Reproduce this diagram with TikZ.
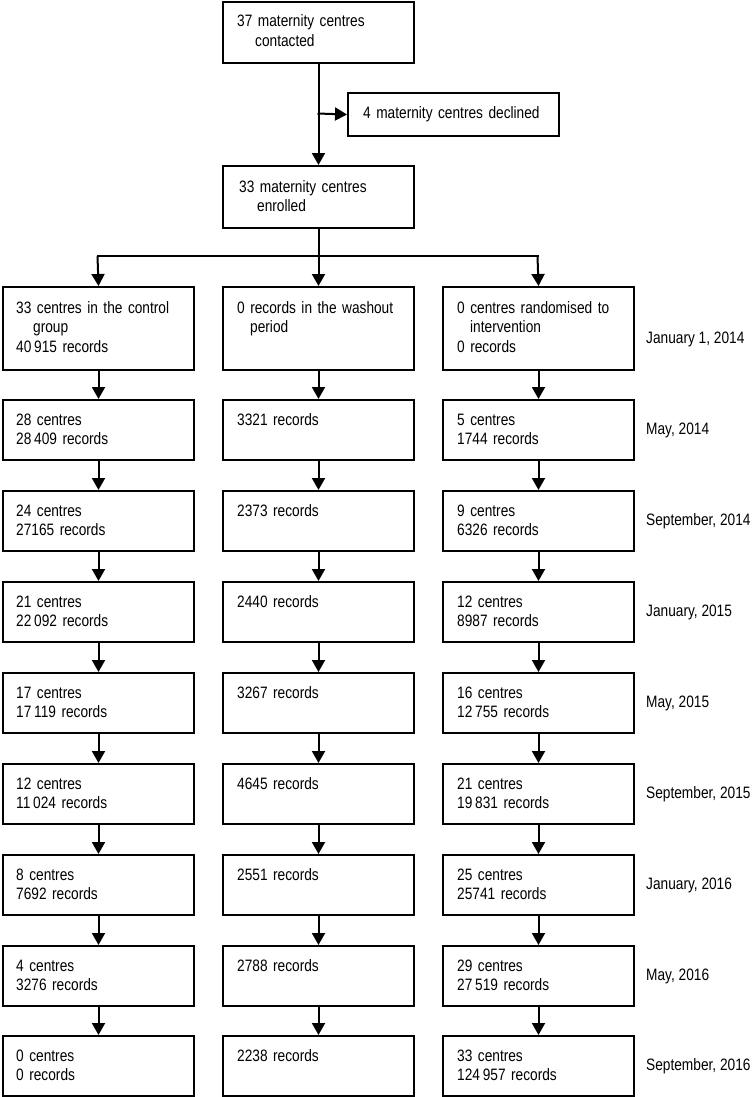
\documentclass[tikz,border=0pt]{standalone}
\usepackage{fontspec}
\setmainfont[FakeStretch=0.83]{Liberation Sans}
\usetikzlibrary{arrows.meta}
\begin{document}
\begin{tikzpicture}[x=1pt,y=-1pt,
  every node/.style={font=\fontsize{16.5}{19.5}\selectfont},
  box/.style={draw, line width=2pt, anchor=north west, inner sep=0pt,
    minimum width=191pt, minimum height=60pt},
  tx/.style={anchor=base west, inner sep=0pt, text width=175pt, align=left},
  dt/.style={anchor=base west, inner sep=0pt},
  arr/.style={line width=2pt, -{Triangle[width=13pt,length=12pt]}},
  ln/.style={line width=2pt}]
\useasboundingbox (0,0) rectangle (755,1097);
\fill[white] (0,0) rectangle (755,1097);

% top part
\node[box, minimum width=191pt, minimum height=61pt] (top) at (222,1) {};
\node[tx] (ttop) at (237,27) {37 maternity centres\\\hspace*{18pt}contacted};
\node[box, minimum width=211pt, minimum height=43pt] (dec) at (347,92) {};
\node[tx, text width=200pt] (tdec) at (363,118) {4 maternity centres declined};
\node[box, minimum width=191pt, minimum height=62pt] (enr) at (222,165) {};
\node[tx] (tenr) at (239,192) {33 maternity centres\\\hspace*{18pt}enrolled};

\coordinate (j) at (317.5,113.5);
\draw[arr] (top.south) -- (enr.north);
\draw[arr] (j) -- (dec.west);

% row 1
\node[box, minimum height=83pt] (L1) at (2,286) {};
\node[box, minimum height=83pt] (M1) at (222,286) {};
\node[box, minimum height=83pt] (R1) at (442,286) {};
\node[tx] (tL1) at (16,313) {33 centres in the control\\\hspace*{17pt}group\\40\,915 records};
\node[tx] (tM1) at (237,313) {0 records in the washout\\\hspace*{13pt}period};
\node[tx] (tR1) at (457,313) {0 centres randomised to\\\hspace*{13pt}intervention\\0 records};
\node[dt] (d1) at (646,343) {January 1, 2014};

\coordinate (bl) at (97.5,256);
\coordinate (brr) at (537.5,256);
\draw[ln] ([xshift=-1pt]bl) -- ([xshift=1pt]brr);
\draw[arr] (bl) -- (L1.north);
\draw[arr] (enr.south) -- (M1.north);
\draw[arr] (brr) -- (R1.north);

% rows 2-9
\foreach \i/\top/\la/\ma/\ra/\dd in {
  2/399/{28 centres\\28\,409 records}/{3321 records}/{5 centres\\1744 records}/{May, 2014},
  3/490/{24 centres\\27165 records}/{2373 records}/{9 centres\\6326 records}/{September, 2014},
  4/581/{21 centres\\22\,092 records}/{2440 records}/{12 centres\\8987 records}/{January, 2015},
  5/672/{17 centres\\17\,119 records}/{3267 records}/{16 centres\\12\,755 records}/{May, 2015},
  6/763/{12 centres\\11\,024 records}/{4645 records}/{21 centres\\19\,831 records}/{September, 2015},
  7/854/{8 centres\\7692 records}/{2551 records}/{25 centres\\25741 records}/{January, 2016},
  8/945/{4 centres\\3276 records}/{2788 records}/{29 centres\\27\,519 records}/{May, 2016},
  9/1035/{0 centres\\0 records}/{2238 records}/{33 centres\\124\,957 records}/{September, 2016}}{
  \node[box] (L\i) at (2,\top) {};
  \node[box] (M\i) at (222,\top) {};
  \node[box] (R\i) at (442,\top) {};
  \node[tx] (tL\i) at (16,\top+26) {\la};
  \node[tx] (tM\i) at (237,\top+26) {\ma};
  \node[tx] (tR\i) at (457,\top+26) {\ra};
  \node[dt] (d\i) at (646,\top+35) {\dd};
}
\foreach \i [count=\j from 2] in {1,...,8}{
  \draw[arr] (L\i.south) -- (L\j.north);
  \draw[arr] (M\i.south) -- (M\j.north);
  \draw[arr] (R\i.south) -- (R\j.north);
}
\end{tikzpicture}
\end{document}
